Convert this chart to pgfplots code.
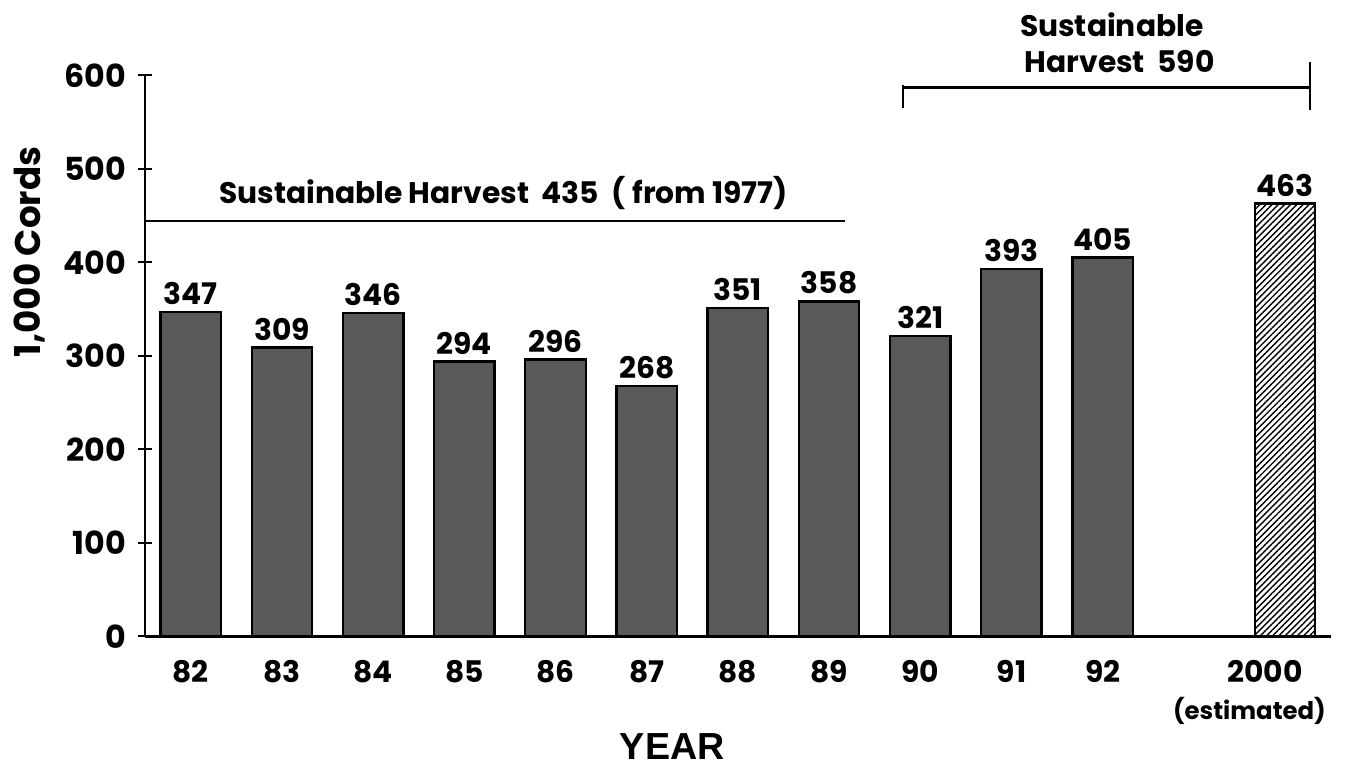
\documentclass[border=0pt]{standalone}
\usepackage{fontspec}
\setmainfont{Poppins}
\newfontfamily\yearfont{Liberation Sans}
\usepackage{pgfplots}
\pgfplotsset{compat=1.18}
\usetikzlibrary{patterns.meta}
\definecolor{stipple}{HTML}{595959}
\newcommand{\lbl}{\fontsize{15}{18}\selectfont\bfseries}
\begin{document}
\begin{tikzpicture}
\begin{axis}[
  scale only axis,width=598pt,height=283pt,
  xmin=-0.5,xmax=12.5,ymin=0,ymax=600,
  axis x line*=bottom,axis y line*=left,
  axis line style={line width=1.3pt},
  ytick={0,100,...,600},
  xtick={0,1,2,3,4,5,6,7,8,9,10,12},
  xticklabels={82,83,84,85,86,87,88,89,90,91,92,2000\hspace*{20pt}},
  xticklabel style={anchor=north,yshift=-1.5pt},
  yticklabel style={xshift=-2.5pt,font=\fontsize{16}{19}\selectfont\bfseries},
  xtick style={draw=none},
  ytick style={line width=1pt,black},
  tick align=center,major tick length=7pt,
  xticklabel style={font=\lbl},
  /pgf/number format/assume math mode=true,
  clip=false,
  ybar,bar width=30.5pt,bar shift=0pt,
  nodes near coords,
  nodes near coords style={font=\lbl,inner sep=3pt},
]
\addplot[fill=stipple,draw=black,line width=1.2pt] coordinates {
 (0,347) (1,309) (2,346) (3,294) (4,296) (5,268)
 (6,351) (7,358) (8,321) (9,393) (10,405)
};
\addplot[pattern={Lines[angle=45,distance=2.2pt,line width=0.7pt]},draw=black,line width=1.2pt] coordinates {(12,463)};

% sustainable harvest since 1977
\draw[line width=1pt] (axis cs:-0.5,444) -- (axis cs:7.18,444);
\node[font=\lbl] at (axis cs:3.43,474) {Sustainable Harvest\ \ 435\ \ ( from 1977)};
% bracket for 590
\draw[line width=1.1pt] (axis cs:7.807,587) -- (axis cs:12.27,587);
\draw[line width=1.1pt] (axis cs:7.807,565) -- (axis cs:7.807,590);
\draw[line width=1.1pt] (axis cs:12.27,563) -- (axis cs:12.27,614);
\node[font=\lbl,align=center] at (axis cs:10.1,635) {Sustainable\\\hspace*{8pt}Harvest\ \ 590};
% estimated note under 2000
\node[font=\fontsize{12.3}{15}\selectfont\bfseries] at (axis cs:11.61,-80) {(estimated)};
% axis titles
\node[rotate=90,font=\fontsize{18}{22}\selectfont\bfseries] at (axis cs:-1.77,411) {1,000 Cords};
\node[font=\fontsize{19}{22}\selectfont\yearfont\bfseries] at (axis cs:5.28,-118) {YEAR};
% page frame
\path (axis cs:-2.092,-140.3) rectangle (axis cs:12.571,680.5);
\end{axis}
\end{tikzpicture}
\end{document}
